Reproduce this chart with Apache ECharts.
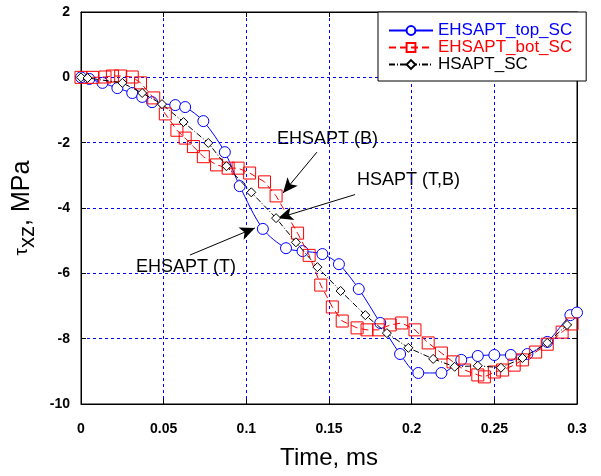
<!DOCTYPE html>
<html>
<head>
<meta charset="utf-8">
<script src="https://cdn.jsdelivr.net/npm/echarts@6/dist/echarts.min.js"></script>
<style>
  html, body { margin: 0; padding: 0; background: #fff; }
  #chart { width: 601px; height: 476px; }
</style>
</head>
<body>
<div id="chart"></div>
<script>
// time, ms
var topX = [0, 0.005, 0.013, 0.022, 0.031, 0.037, 0.043, 0.057, 0.063, 0.074, 0.087, 0.096, 0.110, 0.124, 0.134, 0.146, 0.156, 0.168, 0.181, 0.193, 0.204, 0.218, 0.230, 0.240, 0.250, 0.260, 0.270, 0.282, 0.296, 0.300];
var topY = [0, -0.05, -0.17, -0.33, -0.48, -0.60, -0.76, -0.85, -0.91, -1.34, -2.29, -3.33, -4.64, -5.23, -5.32, -5.41, -5.72, -6.48, -7.52, -8.47, -9.05, -9.05, -8.65, -8.53, -8.50, -8.50, -8.47, -8.10, -7.28, -7.20];

var botX = [0, 0.007, 0.0145, 0.019, 0.024, 0.031, 0.036, 0.044, 0.051, 0.058, 0.063, 0.068, 0.074, 0.082, 0.089, 0.095, 0.102, 0.111, 0.118, 0.131, 0.138, 0.145, 0.152, 0.158, 0.167, 0.173, 0.180, 0.187, 0.194, 0.202, 0.210, 0.218, 0.225, 0.232, 0.240, 0.244, 0.250, 0.255, 0.262, 0.267, 0.275, 0.282, 0.291, 0.297];
var botY = [0, 0, 0.01, 0.04, 0.04, 0.01, -0.17, -0.63, -1.12, -1.62, -1.86, -2.12, -2.43, -2.68, -2.78, -2.78, -2.93, -3.20, -3.63, -4.77, -5.45, -6.36, -7.03, -7.46, -7.67, -7.73, -7.73, -7.58, -7.52, -7.73, -8.13, -8.44, -8.71, -8.96, -9.11, -9.17, -9.02, -8.96, -8.81, -8.65, -8.41, -8.17, -7.80, -7.55];

var hsX = [0, 0.004, 0.025, 0.037, 0.049, 0.062, 0.077, 0.088, 0.103, 0.118, 0.130, 0.143, 0.157, 0.172, 0.185, 0.198, 0.213, 0.226, 0.240, 0.254, 0.267, 0.282, 0.294];
var hsY = [0, -0.02, -0.17, -0.48, -0.82, -1.37, -2.01, -2.72, -3.52, -4.31, -5.05, -5.81, -6.54, -7.28, -7.83, -8.28, -8.62, -8.86, -8.83, -8.89, -8.59, -8.13, -7.58];

var xTicks = ['0', '0.05', '0.1', '0.15', '0.2', '0.25', '0.3'];

// annotation arrows: [fromX, fromY, toX, toY]
var arrows = [
  [0.1427, -2.29, 0.1222, -3.54],
  [0.1657, -3.59, 0.1192, -4.31],
  [0.0659, -5.44, 0.1052, -4.61]
];

function zip(xs, ys) {
  return xs.map(function (x, i) { return [x, ys[i]]; });
}

var chart = echarts.init(document.getElementById('chart'));
var font = 'Liberation Sans, Arial, sans-serif';
var gridDash = { color: '#0000ff', type: [3, 3], width: 1 };
var blackLine = { show: true, onZero: false, lineStyle: { color: '#000' } };
var inTick = { inside: true, length: 5, lineStyle: { color: '#000' } };

var option = {
  animation: false,
  backgroundColor: '#fff',
  grid: { left: 81, right: 24, top: 12, bottom: 72, show: true, borderColor: '#000', borderWidth: 1 },
  legend: {
    orient: 'vertical',
    left: 378, top: 12,
    backgroundColor: '#fff',
    borderColor: '#000', borderWidth: 1,
    padding: [10, 14, 8, 10],
    itemGap: 0,
    itemWidth: 44, itemHeight: 11,
    textStyle: { fontFamily: font, fontSize: 17, lineHeight: 17 },
    data: [
      { name: 'EHSAPT_top_SC', textStyle: { color: '#0000ff' } },
      { name: 'EHSAPT_bot_SC', textStyle: { color: '#ff0000' } },
      { name: 'HSAPT_SC', textStyle: { color: '#000' } }
    ]
  },
  xAxis: [{
    type: 'value', min: 0, max: 0.3, interval: 0.05,
    name: 'Time, ms', nameLocation: 'middle', nameGap: 42,
    nameTextStyle: { fontFamily: font, fontSize: 24, color: '#000' },
    axisLine: blackLine,
    axisTick: inTick,
    axisLabel: {
      margin: 18, color: '#000', fontFamily: font, fontSize: 14, fontWeight: 'bold',
      formatter: function (v) { return xTicks[Math.round(v / 0.05)]; }
    },
    splitLine: { show: true, lineStyle: gridDash }
  }, {
    type: 'value', min: 0, max: 0.3, interval: 0.05, position: 'top',
    axisLine: blackLine, axisTick: inTick,
    axisLabel: { show: false }, splitLine: { show: false }
  }],
  yAxis: [{
    type: 'value', min: -10, max: 2, interval: 2,
    name: '{t|τ}{s|xz}{n|, MPa}', nameLocation: 'middle', nameGap: 40,
    nameTextStyle: {
      fontFamily: font, color: '#000',
      rich: {
        t: { fontFamily: font, fontSize: 19, color: '#000', lineHeight: 34 },
        s: { fontFamily: font, fontSize: 22, color: '#000', lineHeight: 34, verticalAlign: 'bottom' },
        n: { fontFamily: font, fontSize: 25, color: '#000', lineHeight: 34 }
      }
    },
    axisLine: blackLine,
    axisTick: inTick,
    axisLabel: { margin: 11, color: '#000', fontFamily: font, fontSize: 14, fontWeight: 'bold' },
    splitLine: { show: true, lineStyle: gridDash }
  }, {
    type: 'value', min: -10, max: 2, interval: 2, position: 'right',
    axisLine: blackLine, axisTick: inTick,
    axisLabel: { show: false }, splitLine: { show: false }
  }],
  series: [
    {
      name: 'EHSAPT_top_SC', type: 'line', smooth: 0.3,
      data: zip(topX, topY),
      symbol: 'circle', symbolSize: 11, showAllSymbol: true,
      itemStyle: { color: '#fff', borderColor: '#0000ff', borderWidth: 1 },
      lineStyle: { color: '#0000ff', width: 1 },
      color: '#0000ff', z: 3
    },
    {
      name: 'EHSAPT_bot_SC', type: 'line',
      data: zip(botX, botY),
      symbol: 'rect', symbolSize: 12, showAllSymbol: true,
      itemStyle: { color: 'rgba(255,255,255,0)', borderColor: '#ff0000', borderWidth: 1 },
      lineStyle: { color: '#ff0000', width: 1, type: [7, 4] },
      color: '#ff0000', z: 4
    },
    {
      name: 'HSAPT_SC', type: 'line',
      data: zip(hsX, hsY),
      symbol: 'diamond', symbolSize: 9, showAllSymbol: true,
      itemStyle: { color: '#fff', borderColor: '#000', borderWidth: 1 },
      lineStyle: { color: '#000', width: 1, type: [6, 2, 1, 2] },
      color: '#000', z: 5,
      markLine: {
        silent: true, animation: false,
        symbol: ['none', 'arrow'], symbolSize: [10, 15],
        label: { show: false },
        lineStyle: { color: '#000', width: 1, type: 'solid' },
        data: arrows.map(function (a) {
          return [{ coord: [a[0], a[1]] }, { coord: [a[2], a[3]] }];
        })
      }
    }
  ],
  graphic: [
    { type: 'text', left: 277, top: 130, style: { text: 'EHSAPT (B)', font: '18px ' + font, fill: '#000' } },
    { type: 'text', left: 357, top: 171, style: { text: 'HSAPT (T,B)', font: '18px ' + font, fill: '#000' } },
    { type: 'text', left: 136, top: 258, style: { text: 'EHSAPT (T)', font: '18px ' + font, fill: '#000' } }
  ]
};

chart.setOption(option);
</script>
</body>
</html>
